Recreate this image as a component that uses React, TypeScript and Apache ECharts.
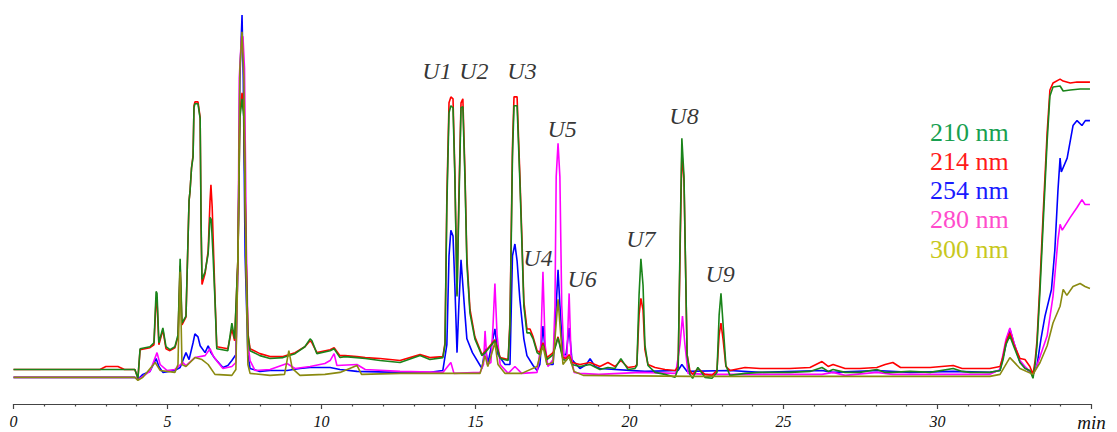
import React, { useEffect, useRef } from "react";
import * as echarts from "echarts";

// Detector wavelengths (legend) and colours
const wavelengths = ["210 nm", "214 nm", "254 nm", "280 nm", "300 nm"];
const lineColors = ["#1a841a", "#ff0000", "#0000ff", "#ff00ff", "#8a8a10"];
const textColors = ["#18a050", "#ff1a1a", "#1a1aff", "#ff4ccc", "#c8c81e"];

// X axis (minutes)
const xMin = 0;
const xMax = 35;
const xInterval = 5;
const xUnitLabel = "min";

// Chromatogram traces: [time (min), absorbance (arb. units)]
const trace210: [number, number][] = [
  [0, 35], [2.81, 35], [3.1, 35], [3.39, 35], [3.94, 35], [4.04, 26], [4.11, 56], [4.43, 58],
  [4.56, 62], [4.63, 114], [4.66, 112], [4.72, 62], [4.85, 77], [4.95, 58], [5.08, 55],
  [5.24, 58], [5.34, 70], [5.41, 147], [5.47, 82], [5.6, 89], [5.7, 206], [5.73, 215],
  [5.78, 239], [5.83, 250], [5.86, 300], [5.89, 304], [5.99, 304], [6.06, 289], [6.09, 186],
  [6.12, 126], [6.22, 134], [6.32, 152], [6.38, 189], [6.42, 187], [6.48, 150], [6.54, 106],
  [6.6, 56], [6.96, 54], [7.09, 82], [7.18, 66], [7.29, 150], [7.35, 290], [7.42, 309],
  [7.48, 290], [7.55, 150], [7.61, 70], [7.68, 54], [8.0, 49], [8.33, 46], [8.75, 47],
  [9.14, 51], [9.46, 58], [9.63, 66], [9.69, 64], [9.85, 51], [10.28, 54], [10.41, 56],
  [10.6, 47], [10.76, 48], [11.15, 47], [11.42, 46], [11.9, 44], [12.55, 42], [13.2, 49],
  [13.52, 45], [13.94, 47], [14.01, 60], [14.07, 200], [14.14, 295], [14.2, 302], [14.27, 300],
  [14.33, 230], [14.4, 109], [14.46, 200], [14.53, 300], [14.59, 301], [14.66, 226],
  [14.72, 142], [14.82, 92], [14.98, 66], [15.21, 49], [15.31, 52], [15.47, 58], [15.63, 64],
  [15.8, 46], [16.06, 44], [16.12, 80], [16.2, 250], [16.25, 302], [16.35, 302], [16.44, 226],
  [16.51, 159], [16.57, 99], [16.67, 72], [16.77, 72], [16.87, 66], [17.0, 52], [17.09, 50],
  [17.19, 60], [17.32, 45], [17.52, 50], [17.68, 67], [17.84, 45], [17.94, 44], [18.04, 48],
  [18.13, 40], [18.39, 38], [18.72, 40], [19.04, 35], [19.3, 37], [19.53, 36], [19.72, 46],
  [19.95, 35], [20.18, 36], [20.24, 39], [20.31, 110], [20.37, 147], [20.44, 120], [20.5, 60],
  [20.6, 39], [20.83, 32], [21.15, 30], [21.48, 27], [21.58, 36], [21.64, 160], [21.7, 269],
  [21.77, 230], [21.87, 50], [21.96, 30], [22.05, 26], [22.22, 37], [22.45, 27], [22.68, 26],
  [22.84, 32], [22.91, 90], [22.97, 112], [23.04, 80], [23.13, 39], [23.26, 29], [23.75, 31],
  [24.24, 32], [25.21, 32], [25.86, 33], [26.25, 37], [26.45, 33], [26.61, 35], [27.0, 32],
  [27.48, 32], [28.03, 35], [28.3, 32], [28.55, 32], [29.11, 33], [29.76, 32], [30.51, 36],
  [30.8, 33], [31.06, 32], [31.7, 32], [32.03, 34], [32.13, 45], [32.22, 60], [32.35, 69],
  [32.48, 58], [32.68, 42], [32.84, 36], [33.0, 34], [33.1, 26], [33.17, 40], [33.23, 59],
  [33.33, 116], [33.43, 182], [33.56, 266], [33.65, 312], [33.75, 321], [33.98, 322],
  [34.08, 317], [34.31, 318], [34.63, 319], [34.95, 319],
];

const trace214: [number, number][] = [
  [0, 35], [2.81, 35], [3.0, 38], [3.39, 38], [3.6, 35], [3.94, 35], [4.04, 26], [4.11, 55],
  [4.43, 57], [4.56, 60], [4.63, 106], [4.66, 104], [4.72, 60], [4.85, 75], [4.95, 56],
  [5.08, 54], [5.24, 57], [5.34, 68], [5.41, 140], [5.47, 80], [5.6, 88], [5.7, 206],
  [5.73, 215], [5.78, 239], [5.83, 252], [5.86, 302], [5.89, 306], [5.99, 306], [6.06, 290],
  [6.09, 180], [6.12, 121], [6.22, 132], [6.32, 155], [6.38, 205], [6.41, 222], [6.45, 200],
  [6.5, 150], [6.54, 110], [6.6, 58], [6.96, 56], [7.09, 76], [7.18, 64], [7.29, 150],
  [7.35, 295], [7.42, 315], [7.48, 295], [7.55, 150], [7.61, 72], [7.68, 56], [8.0, 51],
  [8.33, 48], [8.75, 48], [9.14, 52], [9.46, 58], [9.63, 64], [9.69, 62], [9.85, 52],
  [10.28, 55], [10.41, 57], [10.6, 49], [10.76, 49], [11.15, 48], [11.42, 47], [11.9, 46],
  [12.55, 44], [13.2, 50], [13.52, 47], [13.94, 48], [14.01, 62], [14.07, 210], [14.14, 305],
  [14.2, 311], [14.27, 309], [14.33, 235], [14.4, 111], [14.46, 210], [14.53, 305],
  [14.59, 309], [14.66, 232], [14.72, 148], [14.82, 96], [14.98, 68], [15.21, 50], [15.31, 53],
  [15.47, 59], [15.63, 65], [15.8, 47], [16.06, 45], [16.12, 85], [16.2, 260], [16.25, 311],
  [16.35, 311], [16.44, 232], [16.51, 165], [16.57, 104], [16.67, 76], [16.77, 76],
  [16.87, 68], [17.0, 54], [17.09, 52], [17.19, 62], [17.32, 47], [17.52, 52], [17.68, 68],
  [17.84, 47], [17.94, 46], [18.04, 50], [18.13, 42], [18.39, 40], [18.72, 42], [19.04, 38],
  [19.3, 42], [19.53, 38], [19.72, 44], [19.95, 37], [20.18, 38], [20.24, 40], [20.31, 90],
  [20.37, 107], [20.44, 95], [20.5, 55], [20.6, 40], [20.83, 37], [21.15, 35], [21.48, 34],
  [21.58, 38], [21.64, 150], [21.7, 255], [21.77, 225], [21.87, 50], [21.96, 34], [22.05, 30],
  [22.22, 36], [22.45, 30], [22.68, 29], [22.84, 34], [22.91, 70], [22.97, 82], [23.04, 65],
  [23.13, 38], [23.26, 34], [23.75, 37], [24.24, 36], [25.21, 36], [25.86, 37], [26.25, 43],
  [26.45, 38], [26.61, 40], [27.0, 36], [27.48, 36], [28.03, 37], [28.3, 40], [28.55, 42],
  [28.8, 37], [29.11, 37], [29.76, 37], [30.51, 39], [30.8, 36], [31.06, 36], [31.7, 36],
  [32.03, 38], [32.13, 48], [32.22, 62], [32.35, 72], [32.48, 60], [32.68, 46], [32.84, 45],
  [33.0, 38], [33.1, 30], [33.17, 44], [33.23, 64], [33.33, 125], [33.43, 192], [33.56, 275],
  [33.65, 318], [33.75, 325], [33.98, 329], [34.08, 327], [34.31, 325], [34.53, 326],
  [34.95, 326],
];

const trace254: [number, number][] = [
  [0, 27], [3.94, 27], [4.04, 25], [4.2, 30], [4.43, 33], [4.63, 46], [4.72, 38], [4.85, 32],
  [5.24, 34], [5.41, 37], [5.6, 52], [5.7, 45], [5.83, 62], [5.89, 71], [5.99, 68], [6.06, 59],
  [6.22, 52], [6.32, 59], [6.41, 52], [6.54, 46], [6.8, 37], [6.96, 39], [7.09, 44],
  [7.22, 50], [7.29, 150], [7.35, 330], [7.42, 394], [7.46, 330], [7.52, 150], [7.61, 50],
  [7.68, 36], [8.0, 33], [8.33, 34], [8.88, 34], [9.3, 36], [9.63, 37], [10.28, 37],
  [10.6, 35], [11.15, 33], [12.55, 32], [13.52, 32], [13.94, 34], [14.07, 60], [14.14, 150],
  [14.2, 176], [14.27, 170], [14.33, 120], [14.4, 52], [14.46, 100], [14.53, 146],
  [14.59, 120], [14.66, 90], [14.72, 66], [14.9, 52], [15.15, 39], [15.21, 36], [15.31, 56],
  [15.41, 42], [15.63, 76], [15.73, 50], [15.96, 40], [16.12, 40], [16.2, 150], [16.28, 162],
  [16.35, 145], [16.44, 106], [16.57, 66], [16.67, 49], [16.87, 39], [17.0, 34], [17.09, 40],
  [17.19, 79], [17.26, 55], [17.32, 40], [17.52, 40], [17.62, 100], [17.68, 136],
  [17.74, 100], [17.84, 50], [17.94, 50], [18.04, 77], [18.13, 45], [18.39, 36], [18.6, 40],
  [18.72, 46], [18.88, 38], [19.04, 36], [20.5, 33], [21.58, 34], [21.7, 40], [21.87, 33],
  [23.26, 34], [24.24, 32], [26.25, 34], [26.6, 32], [28.03, 34], [29.11, 32], [30.51, 33],
  [31.7, 32], [32.03, 34], [32.22, 60], [32.35, 76], [32.48, 62], [32.68, 42], [32.84, 37],
  [33.1, 30], [33.23, 39], [33.36, 66], [33.49, 89], [33.7, 116], [33.81, 156], [33.91, 216],
  [33.98, 249], [34.02, 235], [34.21, 249], [34.4, 282], [34.53, 287], [34.69, 282],
  [34.8, 287], [34.95, 287],
];

const trace280: [number, number][] = [
  [0, 27], [3.94, 27], [4.04, 25], [4.2, 28], [4.43, 33], [4.66, 52], [4.76, 40], [4.98, 34],
  [5.24, 35], [5.5, 42], [5.6, 39], [5.89, 47], [6.22, 49], [6.38, 56], [6.48, 49],
  [6.64, 42], [6.8, 36], [7.09, 38], [7.22, 42], [7.29, 150], [7.33, 330], [7.4, 372],
  [7.45, 372], [7.5, 340], [7.56, 160], [7.62, 60], [7.68, 44], [7.84, 34], [8.33, 35], [8.88, 41],
  [9.14, 36], [9.63, 38], [10.11, 41], [10.28, 44], [10.41, 51], [10.5, 39], [11.15, 40],
  [11.42, 35], [12.55, 33], [13.94, 32], [14.2, 42], [14.3, 31], [15.15, 32], [15.26, 40],
  [15.31, 74], [15.38, 40], [15.5, 42], [15.57, 80], [15.63, 122], [15.7, 70], [15.8, 40],
  [16.06, 31], [16.28, 38], [16.5, 31], [17.0, 32], [17.12, 60], [17.19, 134], [17.26, 60],
  [17.35, 38], [17.52, 45], [17.58, 100], [17.62, 230], [17.68, 264], [17.74, 230],
  [17.8, 100], [17.88, 45], [17.97, 50], [18.04, 112], [18.1, 50], [18.2, 32], [18.39, 31],
  [19.0, 30], [20.37, 32], [21.5, 31], [21.64, 60], [21.72, 89], [21.8, 60], [21.9, 31],
  [22.5, 30], [26.25, 30], [26.61, 32], [27.0, 29], [28.03, 32], [28.55, 30], [31.7, 30],
  [32.03, 35], [32.22, 65], [32.35, 77], [32.48, 62], [32.68, 44], [32.84, 38], [33.1, 30],
  [33.23, 39], [33.56, 69], [33.75, 109], [33.91, 166], [33.98, 182], [34.05, 176],
  [34.31, 189], [34.53, 199], [34.69, 207], [34.79, 202], [34.95, 202],
];

const trace300: [number, number][] = [
  [0, 27], [3.94, 27], [4.04, 24], [4.2, 27], [4.6, 42], [4.76, 34], [5.24, 32], [5.34, 40],
  [5.41, 134], [5.47, 40], [5.6, 38], [5.89, 47], [6.12, 45], [6.32, 40], [6.54, 30],
  [7.09, 29], [7.22, 35], [7.29, 150], [7.35, 340], [7.42, 377], [7.48, 330], [7.55, 140],
  [7.61, 40], [7.68, 31], [8.33, 29], [8.8, 30], [8.94, 54], [9.05, 36], [9.3, 29],
  [10.11, 30], [10.6, 32], [11.15, 39], [11.3, 30], [12.55, 31], [13.94, 31], [14.5, 31],
  [15.15, 31], [15.31, 49], [15.4, 38], [15.63, 62], [15.73, 40], [15.96, 31], [16.5, 31],
  [17.0, 38], [17.19, 59], [17.32, 40], [17.52, 42], [17.68, 106], [17.84, 40], [18.04, 48],
  [18.2, 33], [18.5, 29], [22.0, 28], [25.0, 28], [31.7, 28], [32.03, 30], [32.35, 47],
  [32.68, 36], [33.1, 30], [33.33, 42], [33.56, 59], [33.75, 82], [33.98, 99], [34.08, 116],
  [34.2, 110], [34.4, 119], [34.63, 122], [34.79, 119], [34.95, 117],
];

const traces = [trace210, trace214, trace254, trace280, trace300];
// drawing order (first drawn = bottom)
const drawOrder = [2, 3, 1, 0, 4];

// Peak annotations
const peakNames = ["U1", "U2", "U3", "U4", "U5", "U6", "U7", "U8", "U9"];
const peakTimes = [13.75, 14.95, 16.51, 17.03, 17.81, 18.46, 20.37, 21.77, 22.94];
const peakLabelHeights = [337, 337, 337, 148, 278, 127, 167, 292, 132];

export default function App() {
  const ref = useRef<HTMLDivElement>(null);

  useEffect(() => {
    document.body.style.margin = "0";
    if (!ref.current) return;
    const chart = echarts.init(ref.current, undefined, { renderer: "svg" });

    const lineSeries = drawOrder.map((i) => ({
      type: "line",
      name: wavelengths[i],
      data: traces[i],
      showSymbol: false,
      symbol: "none",
      silent: true,
      lineStyle: { color: lineColors[i], width: 1.6 },
      z: 2,
    }));

    const peakSeries = {
      type: "scatter",
      name: "peaks",
      silent: true,
      symbolSize: 1,
      itemStyle: { color: "rgba(0,0,0,0)" },
      data: peakNames.map((n, k) => ({ name: n, value: [peakTimes[k], peakLabelHeights[k]] })),
      label: {
        show: true,
        position: "inside",
        formatter: (p: any) => p.name,
        fontFamily: "Liberation Serif",
        fontStyle: "italic",
        fontSize: 24,
        color: "#000000",
      },
      z: 5,
    };

    chart.setOption({
      animation: false,
      backgroundColor: "#ffffff",
      grid: { left: 13.5, right: 25.5, top: 9, bottom: 23, containLabel: false },
      xAxis: {
        type: "value",
        min: xMin,
        max: xMax,
        interval: xInterval,
        splitLine: { show: false },
        axisLine: { show: true, lineStyle: { color: "#444444", width: 1.2 } },
        axisTick: { show: true, length: 5, lineStyle: { color: "#444444", width: 1.2 } },
        minorTick: { show: true, splitNumber: 5, length: 2.5, lineStyle: { color: "#444444", width: 1.2 } },
        axisLabel: {
          margin: 9,
          fontFamily: "Liberation Serif",
          fontStyle: "italic",
          fontSize: 16,
          color: "#111111",
          formatter: (v: number) => (v === xMax ? "{u|" + xUnitLabel + "}" : String(v)),
          rich: {
            u: {
              fontFamily: "Liberation Serif",
              fontStyle: "italic",
              fontSize: 19,
              color: "#111111",
              padding: [0, 0, 0, 0],
            },
          },
        },
      },
      yAxis: {
        type: "value",
        min: 0,
        max: 400,
        show: false,
        splitLine: { show: false },
      },
      series: [...lineSeries, peakSeries],
      graphic: wavelengths.map((w, i) => ({
        type: "text",
        left: 930,
        top: 119 + i * 29.3,
        silent: true,
        style: {
          text: w,
          fill: textColors[i],
          font: "26px 'Liberation Serif'",
        },
      })),
    });

    return () => chart.dispose();
  }, []);

  return <div ref={ref} style={{ width: 1117, height: 432 }} />;
}
